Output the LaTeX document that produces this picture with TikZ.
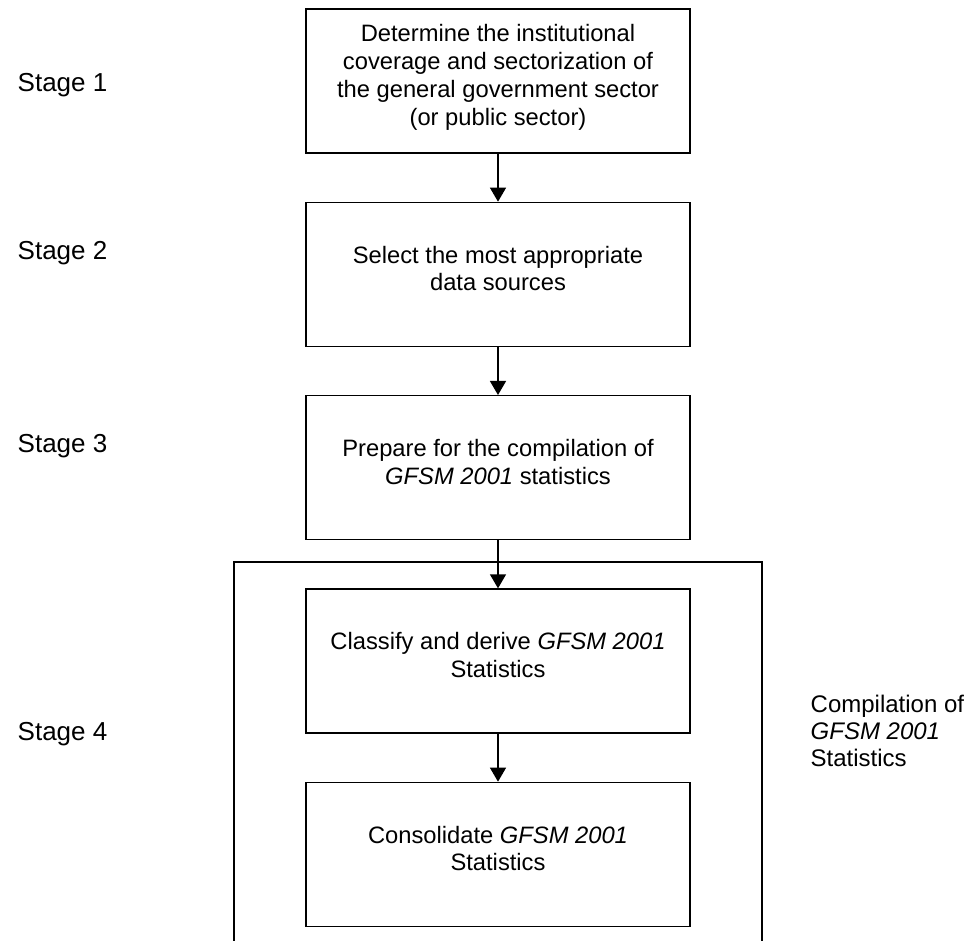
\documentclass[tikz,border=0pt]{standalone}
\usepackage{fontspec}
\setmainfont{Liberation Sans}
\usetikzlibrary{positioning,arrows.meta}

\begin{document}
\begin{tikzpicture}[x=0.75pt, y=-0.75pt, node distance=36pt,
        stagebox/.style={draw, line width=1pt, minimum width=288pt, minimum height=108pt,
            align=center, text depth=9pt, font=\fontsize{17.8}{20.8}\selectfont},
        stagelabel/.style={anchor=base west, font=\fontsize{19.5}{22}\selectfont},
        flow/.style={-{Triangle[width=12pt,length=10.5pt]}, line width=1pt}]
        \useasboundingbox (0,0) rectangle (968,941);
        \node[stagebox] (determine) at (498,81) {Determine the institutional\\coverage and sectorization of\\the general government sector\\(or public sector)};
        \node[stagebox, below=of determine] (select) {Select the most appropriate\\data sources};
        \node[stagebox, below=of select] (prepare) {Prepare for the compilation of\\\textit{GFSM 2001} statistics};
        \node[stagebox, below=of prepare] (classify) {Classify and derive \textit{GFSM 2001}\\Statistics};
        \node[stagebox, below=of classify] (consolidate) {Consolidate \textit{GFSM 2001}\\Statistics};
        \draw[flow] (determine) -- (select);
        \draw[flow] (select) -- (prepare);
        \draw[flow] (prepare) -- (classify);
        \draw[flow] (classify) -- (consolidate);
        \draw[line width=1pt] (234,945) |- (762,562) -- (762,945);
        \node[stagelabel] (stage1) at (13,92) {Stage 1};
        \node[stagelabel] (stage2) at (13,260) {Stage 2};
        \node[stagelabel] (stage3) at (13,452) {Stage 3};
        \node[stagelabel] (stage4) at (13,740) {Stage 4};
        \node[anchor=west, align=left, font=\fontsize{18}{20.25}\selectfont] (compilation) at (806,731) {Compilation of\\\textit{GFSM 2001}\\Statistics};
\end{tikzpicture}
\end{document}
